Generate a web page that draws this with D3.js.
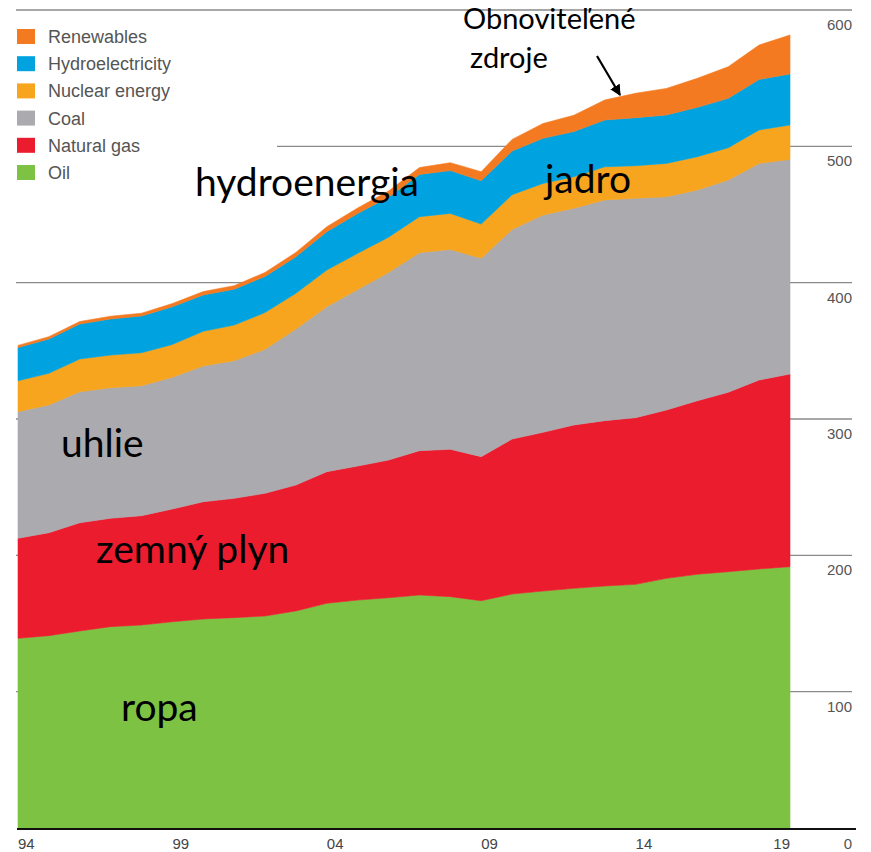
<!DOCTYPE html>
<html>
<head>
<meta charset="utf-8">
<script src="https://cdn.jsdelivr.net/npm/d3@7"></script>
<style>
  html, body { margin: 0; padding: 0; background: #fff; }
  svg { display: block; }
</style>
</head>
<body>
<svg id="chart" width="871" height="852"></svg>
<script>
// ---------- data (EJ) ----------
const years = d3.range(1994, 2020);
const oil        = [139.1,141.1,144.5,147.7,148.9,151.3,153.3,154.3,155.5,159.2,164.8,167.2,168.9,170.9,169.7,166.7,171.6,173.8,175.8,177.5,178.7,183.1,186.1,188.0,190.0,191.7];
const naturalGas = [73.4,75.5,79.4,79.5,80.2,82.7,86.0,87.5,90.0,92.4,96.6,98.3,101.0,105.9,108.1,105.7,113.7,116.4,119.8,121.3,122.3,123.5,127.3,131.6,138.6,141.3];
const coal       = [92.9,93.7,96.1,95.7,95.3,96.6,99.6,101.0,105.6,114.4,121.0,129.5,137.5,145.2,146.6,145.5,153.7,159.4,159.0,161.9,160.9,156.4,154.6,155.7,158.9,157.4];
const nuclear    = [22.7,23.2,24.0,24.0,24.2,24.1,25.5,26.1,27.0,26.2,26.9,26.5,26.0,26.4,26.4,25.1,25.5,23.2,23.1,24.3,23.9,24.5,24.4,23.7,24.5,25.3];
const hydro      = [24.3,25.2,25.7,26.5,26.9,27.7,26.6,26.3,26.5,26.8,28.1,29.3,29.3,31.0,31.4,31.8,32.0,33.1,33.1,34.3,35.2,35.5,36.2,36.2,37.1,37.4];
const renewables = [1.6,1.7,1.8,2.0,2.1,2.3,2.5,2.6,2.9,3.2,3.6,4.0,4.5,5.0,5.8,6.6,8.6,10.8,12.0,14.7,17.9,19.5,21.3,23.2,25.2,28.6];

const seriesKeys   = ["Oil","Natural gas","Coal","Nuclear energy","Hydroelectricity","Renewables"];
const seriesValues = [oil, naturalGas, coal, nuclear, hydro, renewables];
const seriesColors = ["#7dc242","#ec1c2f","#abaaae","#f7a51e","#00a3e0","#f47a22"];
const legendOrder  = ["Renewables","Hydroelectricity","Nuclear energy","Coal","Natural gas","Oil"];

const xTickYears  = [1994,1999,2004,2009,2014,2019];
const xTickLabels = ["94","99","04","09","14","19"];
const yTicks      = [0,100,200,300,400,500,600];

const annotations = [
  {text:"hydroenergia", x:195, y:196, size:39},
  {text:"jadro",        x:545, y:193, size:39},
  {text:"uhlie",        x:61,  y:457, size:39},
  {text:"zemný plyn",   x:96,  y:563, size:39},
  {text:"ropa",         x:121, y:721, size:39},
  {text:"Obnoviteľené", x:463, y:29,  size:29},
  {text:"zdroje",       x:470, y:68,  size:29}
];

// ---------- build table ----------
const table = years.map((yr, i) => {
  const row = {year: yr};
  seriesKeys.forEach((k, j) => row[k] = seriesValues[j][i]);
  return row;
});
const colorOf = d3.scaleOrdinal().domain(seriesKeys).range(seriesColors);

// ---------- layout ----------
const svg = d3.select("#chart");
const x = d3.scaleLinear().domain([1994, 2019]).range([18, 790]);
const y = d3.scaleLinear().domain([0, 600]).range([828, 10]);

// gridlines (behind)
const grid = svg.append("g");
yTicks.filter(v => v > 0).forEach(v => {
  const x0 = v === 500 ? 277 : 16;
  grid.append("line")
    .attr("x1", x0).attr("x2", 852)
    .attr("y1", y(v)).attr("y2", y(v))
    .attr("stroke", "#8a8a8a").attr("stroke-width", 1.3);
});

// stacked areas
const stack = d3.stack().keys(seriesKeys);
const layers = stack(table);
const area = d3.area()
  .x(d => x(d.data.year))
  .y0(d => y(d[0]))
  .y1(d => y(d[1]));

svg.append("g").selectAll("path")
  .data(layers)
  .join("path")
  .attr("d", area)
  .attr("fill", d => colorOf(d.key))
  .attr("stroke", d => colorOf(d.key))
  .attr("stroke-width", 0.6);

// y tick labels (right)
svg.append("g").selectAll("text")
  .data(yTicks)
  .join("text")
  .attr("x", 852)
  .attr("text-anchor", "end")
  .attr("font-family", "Liberation Sans, Arial, sans-serif")
  .attr("font-size", 15)
  .attr("fill", "#555")
  .text(d => d)
  .attr("y", d => d === 0 ? 849 : y(d) + 20);

// bottom axis line
svg.append("line")
  .attr("x1", 17).attr("x2", 856)
  .attr("y1", 829).attr("y2", 829)
  .attr("stroke", "#111").attr("stroke-width", 2.2);

// x tick labels
svg.append("g").selectAll("text")
  .data(xTickYears)
  .join("text")
  .attr("x", d => x(d))
  .attr("y", 849)
  .attr("text-anchor", (d, i) => i === xTickYears.length - 1 ? "end" : "start")
  .attr("font-family", "Liberation Sans, Arial, sans-serif")
  .attr("font-size", 15)
  .attr("fill", "#444")
  .text((d, i) => xTickLabels[i]);

// legend
const legend = svg.append("g");
legendOrder.forEach((k, i) => {
  const yy = 29 + i * 27.2;
  legend.append("rect")
    .attr("x", 17).attr("y", yy)
    .attr("width", 18).attr("height", 15)
    .attr("fill", colorOf(k));
  legend.append("text")
    .attr("x", 48).attr("y", yy + 14)
    .attr("font-family", "Liberation Sans, Arial, sans-serif")
    .attr("font-size", 18)
    .attr("fill", "#555")
    .text(k);
});

// annotations
svg.append("g").selectAll("text")
  .data(annotations)
  .join("text")
  .attr("x", d => d.x)
  .attr("y", d => d.y)
  .attr("font-family", "Lato, 'Open Sans', sans-serif")
  .attr("font-size", d => d.size)
  .attr("fill", "#000")
  .text(d => d.text);

// arrow
svg.append("defs").append("marker")
  .attr("id", "arrowhead")
  .attr("viewBox", "0 0 10 10")
  .attr("refX", 9).attr("refY", 5)
  .attr("markerWidth", 5).attr("markerHeight", 5)
  .attr("orient", "auto")
  .append("path").attr("d", "M0,0 L10,5 L0,10 Z").attr("fill", "#000");
svg.append("line")
  .attr("x1", 597).attr("y1", 56)
  .attr("x2", 620).attr("y2", 95)
  .attr("stroke", "#000").attr("stroke-width", 2.2)
  .attr("marker-end", "url(#arrowhead)");
</script>
</body>
</html>
